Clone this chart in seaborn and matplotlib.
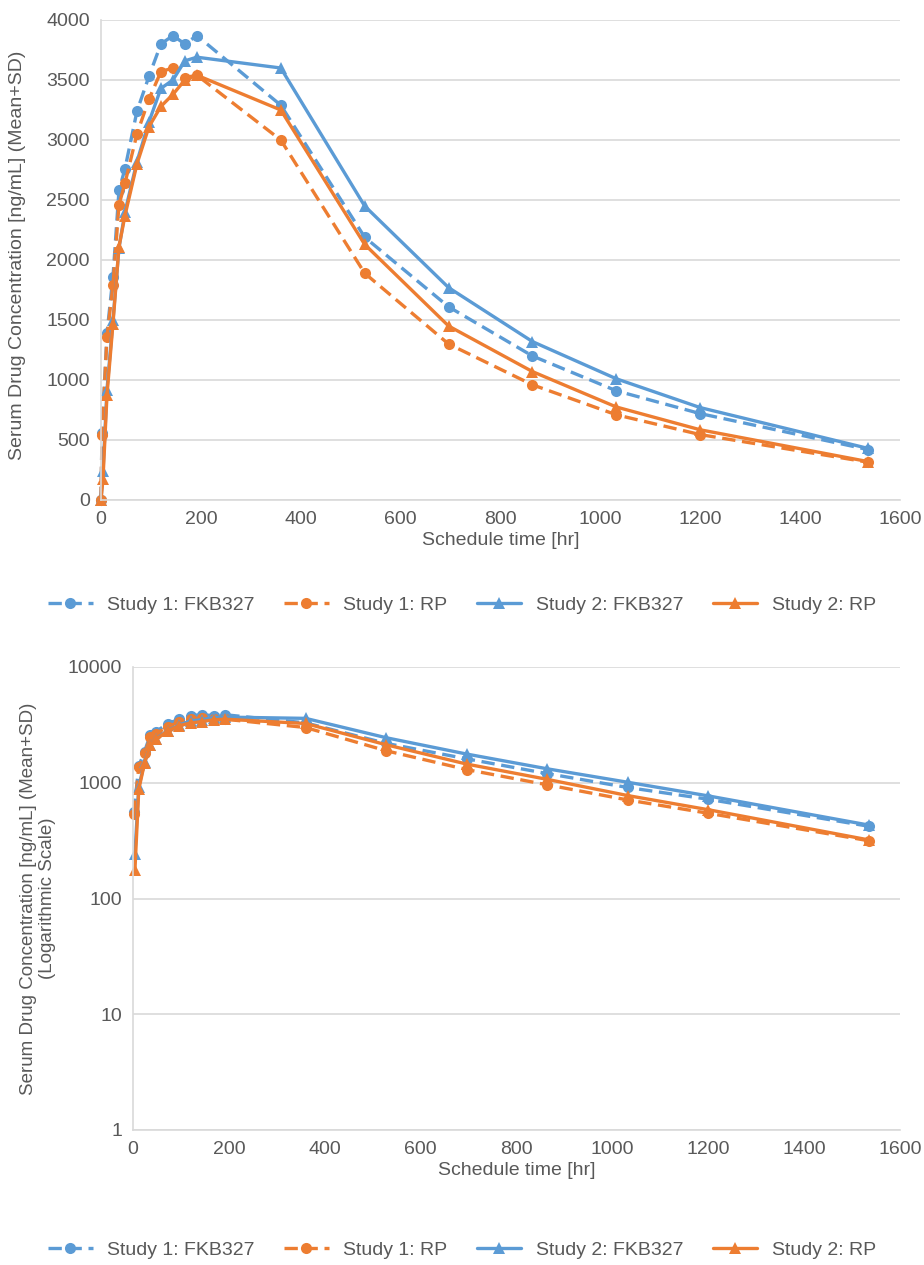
import matplotlib
matplotlib.use('Agg')
import matplotlib.pyplot as plt
import matplotlib.ticker as mticker
import seaborn as sns
import numpy as np

# ------------------------------------------------------------
# Data
# ------------------------------------------------------------
time_hr = [0, 2, 12, 24, 36, 48, 72, 96, 120, 144, 168, 192,
           360, 528, 696, 864, 1032, 1200, 1536]
time_hr_s2 = [0, 4, 12, 24, 36, 48, 72, 96, 120, 144, 168, 192,
              360, 528, 696, 864, 1032, 1200, 1536]

s1_fkb327 = [0, 560, 1390, 1860, 2580, 2760, 3240, 3530, 3800, 3870, 3800, 3870,
             3290, 2190, 1610, 1200, 910, 720, 420]
s1_rp = [0, 540, 1360, 1790, 2460, 2640, 3050, 3340, 3570, 3600, 3520, 3540,
         3000, 1890, 1300, 960, 710, 545, 315]
s2_fkb327 = [0, 240, 920, 1500, 2100, 2400, 2820, 3150, 3430, 3500, 3660, 3690,
             3600, 2450, 1770, 1320, 1010, 770, 430]
s2_rp = [0, 175, 875, 1470, 2110, 2370, 2800, 3110, 3280, 3380, 3500, 3540,
         3250, 2130, 1450, 1070, 775, 585, 320]

series_labels = ['Study 1: FKB327', 'Study 1: RP', 'Study 2: FKB327', 'Study 2: RP']

BLUE = '#5B9BD5'
ORANGE = '#ED7D31'
GREY = '#595959'
GRID = '#D9D9D9'

sns.set_style('white')
plt.rcParams['font.family'] = ['Liberation Sans', 'DejaVu Sans']
plt.rcParams['text.color'] = GREY
plt.rcParams['axes.labelcolor'] = GREY
plt.rcParams['xtick.color'] = GREY
plt.rcParams['ytick.color'] = GREY

FS = 14

series = [
    (time_hr, s1_fkb327, BLUE, 'o', (0, (4, 2)), series_labels[0]),
    (time_hr, s1_rp, ORANGE, 'o', (0, (4, 2)), series_labels[1]),
    (time_hr_s2, s2_fkb327, BLUE, '^', '-', series_labels[2]),
    (time_hr_s2, s2_rp, ORANGE, '^', '-', series_labels[3]),
]


def draw(ax, log=False):
    for t, v, col, mk, ls, lab in series:
        t = np.asarray(t)
        v = np.asarray(v, dtype=float)
        if log:
            keep = v > 0
            t, v = t[keep], v[keep]
        sns.lineplot(x=t, y=v, ax=ax, color=col, marker=mk, linestyle=ls,
                     linewidth=2.4, markersize=8 if mk == 'o' else 9,
                     markeredgecolor=col, markeredgewidth=0,
                     label=lab, clip_on=False, estimator=None, sort=False)
    if ax.get_legend() is not None:
        ax.get_legend().remove()

    ax.set_xlim(0, 1600)
    ax.set_xticks(range(0, 1601, 200))
    ax.grid(axis='y', color=GRID, linewidth=1.2)
    ax.grid(axis='x', visible=False)
    for s in ['top', 'right']:
        ax.spines[s].set_visible(False)
    for s in ['left', 'bottom']:
        ax.spines[s].set_color(GRID)
        ax.spines[s].set_linewidth(1.2)
    ax.tick_params(axis='both', length=0, labelsize=FS, pad=8)
    ax.set_xlabel('Schedule time [hr]', fontsize=FS, labelpad=3)


def add_legend(ax, y_px):
    handles, labels = ax.get_legend_handles_labels()
    fig.legend(handles, labels, loc='center', bbox_to_anchor=(0.5, 1 - y_px / 1265),
               ncol=4, frameon=False, fontsize=FS, handlelength=2.3,
               columnspacing=1.5, handletextpad=0.75)


fig = plt.figure(figsize=(9.24, 12.65), dpi=100)

# ---------------- linear chart ----------------
ax1 = fig.add_axes([101 / 924, 1 - 500 / 1265, 799 / 924, 480 / 1265])
draw(ax1)
ax1.set_ylim(0, 4000)
ax1.set_yticks(range(0, 4001, 500))
ax1.set_ylabel('Serum Drug Concentration [ng/mL] (Mean+SD)', fontsize=FS)
ax1.yaxis.set_label_coords(-0.094, 0.51)
add_legend(ax1, 605)

# ---------------- log chart ----------------
ax2 = fig.add_axes([133 / 924, 1 - 1130 / 1265, 767 / 924, 463 / 1265])
draw(ax2, log=True)
ax2.set_yscale('log')
ax2.set_ylim(1, 10000)
ax2.set_yticks([1, 10, 100, 1000, 10000])
ax2.yaxis.set_major_formatter(mticker.FuncFormatter(lambda v, p: f'{v:g}'))
ax2.yaxis.set_minor_locator(mticker.NullLocator())
ax2.set_ylabel('Serum Drug Concentration [ng/mL] (Mean+SD)\n(Logarithmic Scale)',
               fontsize=FS - 0.5, linespacing=1.15)
ax2.yaxis.set_label_coords(-0.100, 0.5)
add_legend(ax2, 1250)

fig.savefig('out.png', dpi=100, facecolor='white')
